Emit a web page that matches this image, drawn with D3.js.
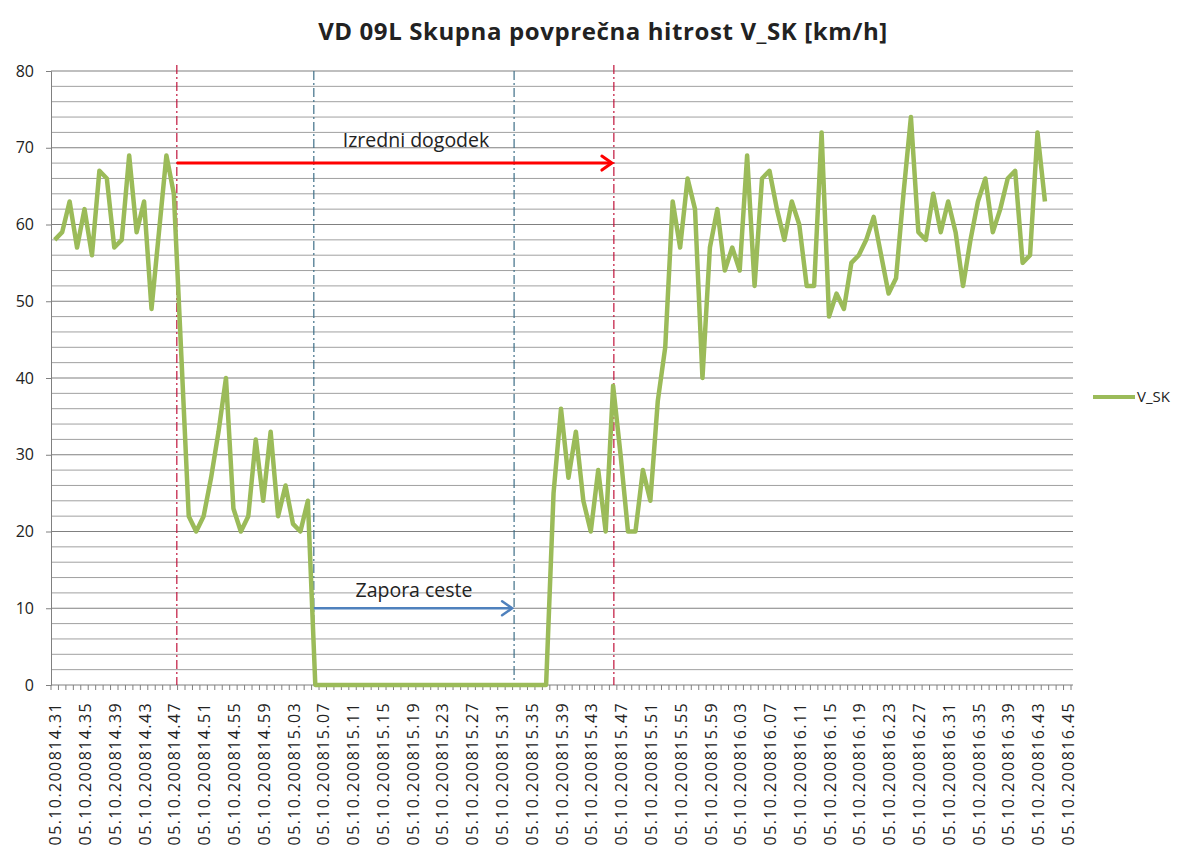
<!DOCTYPE html>
<html>
<head>
<meta charset="utf-8">
<script src="https://cdn.jsdelivr.net/npm/d3@7"></script>
<style>
	body { margin: 0; background: #fff; }
	svg { display: block; font-family: 'Open Sans', 'Noto Sans', sans-serif; }
</style>
</head>
<body>
<svg id="chart" width="1183" height="857"></svg>
<script>
'use strict';

// Category axis: one slot per measurement, a label every 4 slots
var categoryCount = 137;
var labelEvery = 4;
var tickLabels = [
	'05.10.200814.31', '05.10.200814.35', '05.10.200814.39', '05.10.200814.43',
	'05.10.200814.47', '05.10.200814.51', '05.10.200814.55', '05.10.200814.59',
	'05.10.200815.03', '05.10.200815.07', '05.10.200815.11', '05.10.200815.15',
	'05.10.200815.19', '05.10.200815.23', '05.10.200815.27', '05.10.200815.31',
	'05.10.200815.35', '05.10.200815.39', '05.10.200815.43', '05.10.200815.47',
	'05.10.200815.51', '05.10.200815.55', '05.10.200815.59', '05.10.200816.03',
	'05.10.200816.07', '05.10.200816.11', '05.10.200816.15', '05.10.200816.19',
	'05.10.200816.23', '05.10.200816.27', '05.10.200816.31', '05.10.200816.35',
	'05.10.200816.39', '05.10.200816.43', '05.10.200816.45'
];

// V_SK series (km/h), one value per slot
var seriesName = 'V_SK';
var speedValues = [
	58, 59, 63, 57, 62, 56, 67, 66, 57, 58, 69, 59, 63, 49, 59, 69, 64,
	43,
	22, 20, 22, 27, 33, 40, 23, 20, 22, 32, 24, 33, 22, 26, 21, 20, 24,
	0, 0, 0, 0, 0, 0, 0, 0, 0, 0, 0, 0, 0, 0, 0, 0,
	0, 0, 0, 0, 0, 0, 0, 0, 0, 0, 0, 0, 0, 0, 0, 0,
	25, 36, 27, 33, 24, 20, 28, 20, 39, 30, 20, 20, 28, 24, 37, 44,
	63, 57, 66, 62, 40, 57, 62, 54, 57, 54, 69, 52, 66, 67, 62, 58, 63, 60,
	52, 52, 72, 48, 51, 49, 55, 56, 58, 61, 56, 51, 53, 64, 74, 59, 58, 64,
	59, 63, 59, 52, 58, 63, 66, 59, 62, 66, 67, 55, 56, 72, 63
];

// Y axis
var yMax = 80;
var yMajorStep = 10;
var yMinorStep = 2;

// Annotations: event span (red) and road closure (blue), in slot units
var eventLines = [16.4, 75.1];
var closureLines = [34.8, 61.7];
var eventArrow = { from: 16.4, to: 75.1, value: 68, label: 'Izredni dogodek' };
var closureArrow = { from: 34.8, to: 61.7, value: 10, label: 'Zapora ceste' };

var titleText = 'VD 09L Skupna povprečna hitrost V_SK [km/h]';

var svg = d3.select('#chart');
var plot = { left: 51, right: 1071, top: 71, bottom: 685 };

var x_band = d3.scaleBand()
	.domain(d3.range(categoryCount))
	.range([plot.left, plot.right]);
var x_pos = d3.scaleLinear()
	.domain([0, categoryCount - 1])
	.range([x_band(0) + x_band.bandwidth() / 2, x_band(categoryCount - 1) + x_band.bandwidth() / 2]);
var y_scale = d3.scaleLinear()
	.domain([0, yMax])
	.range([plot.bottom, plot.top]);

// Horizontal gridlines, minor every 2, major every 10
var minorVals = d3.range(yMinorStep, yMax + 0.1, yMinorStep).filter(function(v) { return v % yMajorStep !== 0; });
var majorVals = d3.range(yMajorStep, yMax + 0.1, yMajorStep);

svg.append('g').selectAll('line.minor')
	.data(minorVals)
	.enter().append('line')
	.attr('x1', plot.left).attr('x2', plot.right + 2)
	.attr('y1', function(d) { return y_scale(d); })
	.attr('y2', function(d) { return y_scale(d); })
	.attr('stroke', '#a0a0a0')
	.attr('stroke-width', 1);

svg.append('g').selectAll('line.major')
	.data(majorVals)
	.enter().append('line')
	.attr('x1', plot.left).attr('x2', plot.right + 2)
	.attr('y1', function(d) { return y_scale(d); })
	.attr('y2', function(d) { return y_scale(d); })
	.attr('stroke', '#808080')
	.attr('stroke-width', 1.2);

// Y axis
var yAxis = d3.axisLeft(y_scale)
	.tickValues(d3.range(0, yMax + 1, yMajorStep))
	.tickSize(5)
	.tickPadding(12);
var yg = svg.append('g')
	.attr('transform', 'translate(' + plot.left + ',0)')
	.call(yAxis);
yg.select('.domain').attr('stroke', '#808080');
yg.selectAll('.tick line').attr('stroke', '#808080');
yg.selectAll('.tick text')
	.attr('font-size', 16)
	.attr('fill', '#222')
	.style('font-family', "'Open Sans', sans-serif");

// X axis: small tick at every slot boundary, label every 4 slots
var xg = svg.append('g');
xg.append('line')
	.attr('x1', plot.left).attr('x2', plot.right + 2)
	.attr('y1', plot.bottom).attr('y2', plot.bottom)
	.attr('stroke', '#808080')
	.attr('stroke-width', 1.2);
xg.selectAll('line.xtick')
	.data(d3.range(categoryCount + 1))
	.enter().append('line')
	.attr('x1', function(d) { return plot.left + d * x_band.step(); })
	.attr('x2', function(d) { return plot.left + d * x_band.step(); })
	.attr('y1', plot.bottom)
	.attr('y2', plot.bottom + 5)
	.attr('stroke', '#808080');
xg.selectAll('text.xlabel')
	.data(tickLabels)
	.enter().append('text')
	.attr('class', 'xlabel')
	.attr('transform', function(d, i) {
		return 'translate(' + (x_pos(i * labelEvery) + 1) + ',' + (plot.bottom + 17) + ') rotate(-90)';
	})
	.attr('dy', '0.35em')
	.attr('text-anchor', 'end')
	.attr('font-size', 16)
	.attr('letter-spacing', 1.4)
	.attr('fill', '#222')
	.text(function(d) { return d; });

// Vertical marker lines
svg.append('g').selectAll('line.event')
	.data(eventLines)
	.enter().append('line')
	.attr('x1', function(d) { return x_pos(d); })
	.attr('x2', function(d) { return x_pos(d); })
	.attr('y1', plot.top - 6)
	.attr('y2', plot.bottom)
	.attr('stroke', '#c0143c')
	.attr('stroke-width', 1.2)
	.attr('stroke-dasharray', '9,3,2,3');

svg.append('g').selectAll('line.closure')
	.data(closureLines)
	.enter().append('line')
	.attr('x1', function(d) { return x_pos(d); })
	.attr('x2', function(d) { return x_pos(d); })
	.attr('y1', plot.top)
	.attr('y2', plot.bottom)
	.attr('stroke', '#3f6f88')
	.attr('stroke-width', 1.2)
	.attr('stroke-dasharray', '9,3,2,3');

// Data line
var line = d3.line()
	.x(function(d, i) { return x_pos(i); })
	.y(function(d) { return y_scale(d); });

svg.append('path')
	.datum(speedValues)
	.attr('d', line)
	.attr('fill', 'none')
	.attr('stroke', '#9bbb59')
	.attr('stroke-width', 4.5)
	.attr('stroke-linejoin', 'round');

// Arrows with labels
function drawArrow(a, colour, width, head) {
	var x1 = x_pos(a.from);
	var x2 = x_pos(a.to) - 2;
	var y = y_scale(a.value);
	var g = svg.append('g');
	g.append('line')
		.attr('x1', x1).attr('x2', x2)
		.attr('y1', y).attr('y2', y)
		.attr('stroke', colour)
		.attr('stroke-width', width);
	g.append('path')
		.attr('d', 'M' + (x2 - head) + ',' + (y - head * 0.7) + 'L' + x2 + ',' + y + 'L' + (x2 - head) + ',' + (y + head * 0.7))
		.attr('fill', 'none')
		.attr('stroke', colour)
		.attr('stroke-width', width)
		.attr('stroke-linecap', 'round');
	return g;
}

drawArrow(eventArrow, '#ff0000', 3, 10);
drawArrow(closureArrow, '#4f81bd', 2.5, 10);

svg.append('text')
	.attr('x', 416)
	.attr('y', y_scale(eventArrow.value) - 16)
	.attr('text-anchor', 'middle')
	.attr('font-size', 19.5)
	.attr('fill', '#222')
	.text(eventArrow.label);

svg.append('text')
	.attr('x', 414)
	.attr('y', y_scale(closureArrow.value) - 11)
	.attr('text-anchor', 'middle')
	.attr('font-size', 19.5)
	.attr('fill', '#222')
	.text(closureArrow.label);

// Title
svg.append('text')
	.attr('x', 603)
	.attr('y', 40)
	.attr('text-anchor', 'middle')
	.attr('font-size', 24)
	.attr('font-weight', 'bold')
	.attr('letter-spacing', 0.6)
	.attr('fill', '#222')
	.text(titleText);

// Legend
var legend = svg.append('g').attr('transform', 'translate(1093,397)');
legend.append('line')
	.attr('x1', 0).attr('x2', 42)
	.attr('y1', 0).attr('y2', 0)
	.attr('stroke', '#9bbb59')
	.attr('stroke-width', 4);
legend.append('text')
	.attr('x', 44)
	.attr('y', 0)
	.attr('dy', '0.35em')
	.attr('font-size', 15)
	.attr('fill', '#222')
	.text(seriesName);
</script>
</body>
</html>
